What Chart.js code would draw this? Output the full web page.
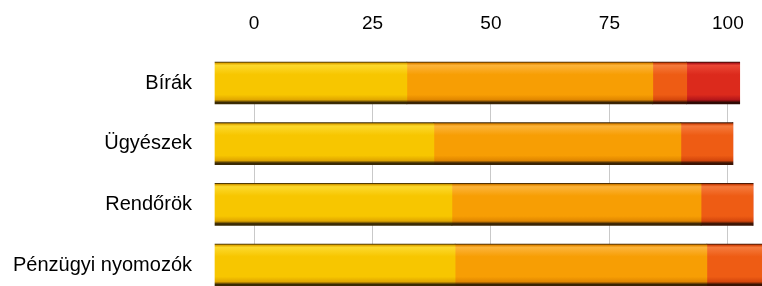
<!DOCTYPE html>
<html>
<head>
<meta charset="utf-8">
<script src="https://cdn.jsdelivr.net/npm/chart.js@4"></script>
<style>
html, body { margin: 0; padding: 0; background: #fff; }
#wrap { width: 762px; height: 286px; }
</style>
</head>
<body>
<div id="wrap"><canvas id="chart"></canvas></div>
<script>
var categories = ["Bírák", "Ügyészek", "Rendőrök", "Pénzügyi nyomozók"];
var seriesNames = ["1. csoport", "2. csoport", "3. csoport", "4. csoport"];
var yellowValues = [36.2, 41.3, 44.7, 45.3];
var orangeValues = [46.4, 46.6, 47.0, 47.5];
var darkOrangeValues = [6.4, 9.8, 9.8, 10.5];
var redValues = [10.0, 0, 0, 0];
var tickValues = [0, 25, 50, 75, 100];

// colours: [top highlight, base, lower, bottom edge]
var palette = [
    ["#fcd92c", "#f7c600", "#e0a600", "#3a2a04"],
    ["#fcb43a", "#f79e04", "#e08600", "#3a2404"],
    ["#f57a3c", "#ee5c14", "#d4460c", "#3a1404"],
    ["#ea4634", "#dc2a1c", "#b4161a", "#300a04"]
];

function shade(i)
{
    return function(ctx)
    {
        var p = palette[i];
        if (ctx.type !== "data") return p[1];
        var chart = ctx.chart;
        var y = chart.scales.y ? chart.scales.y.getPixelForValue(ctx.dataIndex) : NaN;
        if (!isFinite(y)) return p[1];
        var g = chart.ctx.createLinearGradient(0, y - 21, 0, y + 21);
        g.addColorStop(0, p[3]);
        g.addColorStop(0.03, p[2]);
        g.addColorStop(0.08, p[0]);
        g.addColorStop(0.3, p[1]);
        g.addColorStop(0.78, p[1]);
        g.addColorStop(0.9, p[2]);
        g.addColorStop(0.96, p[3]);
        g.addColorStop(1, p[3]);
        return g;
    };
}

var allValues = [yellowValues, orangeValues, darkOrangeValues, redValues];
var datasets = [];
allValues.forEach(function(vals, i)
{
    datasets.push({
        label: seriesNames[i],
        data: vals,
        backgroundColor: shade(i),
        borderWidth: 0,
        barThickness: 42,
        clip: false,
        xAxisID: "x"
    });
});

new Chart(document.getElementById("chart"), {
    type: "bar",
    data: { labels: categories, datasets: datasets },
    options: {
        indexAxis: "y",
        responsive: true,
        maintainAspectRatio: false,
        animation: false,
        layout: { padding: { top: 0, right: 0, bottom: 21, left: 0 } },
        plugins: { legend: { display: false }, tooltip: { enabled: false } },
        scales: {
            x: {
                stacked: true,
                display: false,
                min: 0,
                max: 103.2
            },
            x2: {
                type: "linear",
                position: "top",
                min: -8.23,
                max: 107.2,
                afterBuildTicks: function(scale)
                {
                    scale.ticks = tickValues.map(function(v) { return { value: v }; });
                },
                afterFit: function(scale)
                {
                    scale.height = 83;
                    scale.paddingLeft = 0;
                    scale.paddingRight = 0;
                },
                grid: { color: "#c9c9c9", lineWidth: 1, drawTicks: false },
                border: { display: false },
                ticks: {
                    padding: 48,
                    color: "#000",
                    font: { family: "Liberation Sans, Arial, sans-serif", size: 19 }
                }
            },
            y: {
                stacked: true,
                offset: false,
                afterFit: function(scale)
                {
                    scale.width = 215;
                    scale.paddingTop = 0;
                    scale.paddingBottom = 0;
                },
                grid: { display: false, drawTicks: false },
                border: { display: false },
                ticks: {
                    padding: 23,
                    color: "#000",
                    font: { family: "Liberation Sans, Arial, sans-serif", size: 20 }
                }
            }
        }
    }
});
</script>
</body>
</html>
